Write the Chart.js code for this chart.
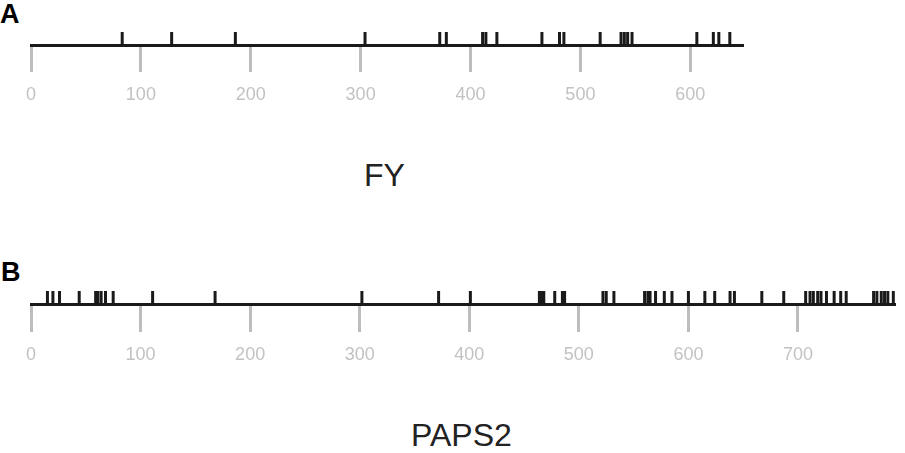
<!DOCTYPE html>
<html>
<head>
<meta charset="utf-8">
<script src="https://cdn.jsdelivr.net/npm/chart.js@4"></script>
<style>
  html, body { margin: 0; padding: 0; background: #fff; }
  body { width: 905px; height: 453px; position: relative; overflow: hidden; font-family: "Liberation Sans", Arial, sans-serif; }
  .panel { position: absolute; left: 0; width: 905px; }
  .lbl { position: absolute; line-height: 1; white-space: nowrap; color: #000; }
  .title { position: absolute; line-height: 1; white-space: nowrap; color: #222; font-size: 32px; }
</style>
</head>
<body>
<div class="lbl" style="left:0px; top:1px; font-size:27px; font-weight:bold;">A</div>
<div class="panel" style="top:0px; height:105px;"><canvas id="chartA"></canvas></div>
<div class="title" style="left:364px; top:159px;">FY</div>

<div class="lbl" style="left:1px; top:259px; font-size:27px; font-weight:bold;">B</div>
<div class="panel" style="top:259px; height:105px;"><canvas id="chartB"></canvas></div>
<div class="title" style="left:411px; top:419px;">PAPS2</div>

<script>
// ---- data ----
const fyLength = 648;
const fySites = [83, 128, 186, 304, 372, 378, 411, 414, 424, 465, 481, 485, 518, 537, 540, 543, 547, 606, 621, 626, 636];
const fyTicks = [0, 100, 200, 300, 400, 500, 600];

const paps2Length = 789;
const paps2Sites = [15, 20, 26, 44, 59, 61, 64, 68, 75, 111, 168, 302, 372, 401, 464, 466, 468, 478, 485, 487,
  522, 525, 532, 560, 563, 565, 570, 578, 585, 600, 615, 624, 638, 642, 667, 687, 707, 711, 714, 718, 721,
  726, 733, 739, 744, 769, 772, 776, 779, 782, 787];
const paps2Ticks = [0, 100, 200, 300, 400, 500, 600, 700];

// ---- chart builder ----
function makeChart(id, sites, length, tickVals, rightPad, tickLen) {
  return new Chart(document.getElementById(id), {
    type: 'scatter',
    data: {
      datasets: [{
        data: sites.map(v => ({ x: v, y: 0.5 })),
        pointStyle: 'line',
        rotation: 90,
        radius: 6.5,
        hoverRadius: 6.5,
        borderWidth: 3,
        borderColor: '#1a1a1a',
        backgroundColor: '#1a1a1a'
      }]
    },
    options: {
      responsive: true,
      maintainAspectRatio: false,
      animation: false,
      events: [],
      layout: { padding: { left: 31, right: rightPad, top: 32, bottom: 0 } },
      plugins: { legend: { display: false }, tooltip: { enabled: false } },
      scales: {
        y: { display: false, min: 0, max: 1 },
        x: {
          type: 'linear',
          min: 0,
          max: length,
          afterBuildTicks: (scale) => { scale.ticks = tickVals.map(v => ({ value: v })); },
          afterFit: (scale) => { scale.height = 60; },
          ticks: {
            includeBounds: false,
            stepSize: 100,
            color: '#c2c2c2',
            padding: 12,
            maxRotation: 0,
            font: { family: '"Liberation Sans", Arial, sans-serif', size: 18 }
          },
          grid: {
            display: true,
            drawOnChartArea: false,
            drawTicks: true,
            tickLength: tickLen,
            tickWidth: 3,
            tickColor: '#bdbdbd'
          },
          border: { display: true, color: '#1a1a1a', width: 3 }
        }
      }
    }
  });
}

makeChart('chartA', fySites, fyLength, fyTicks, 905 - 743, 27);
makeChart('chartB', paps2Sites, paps2Length, paps2Ticks, 905 - 898, 28);
</script>
</body>
</html>
